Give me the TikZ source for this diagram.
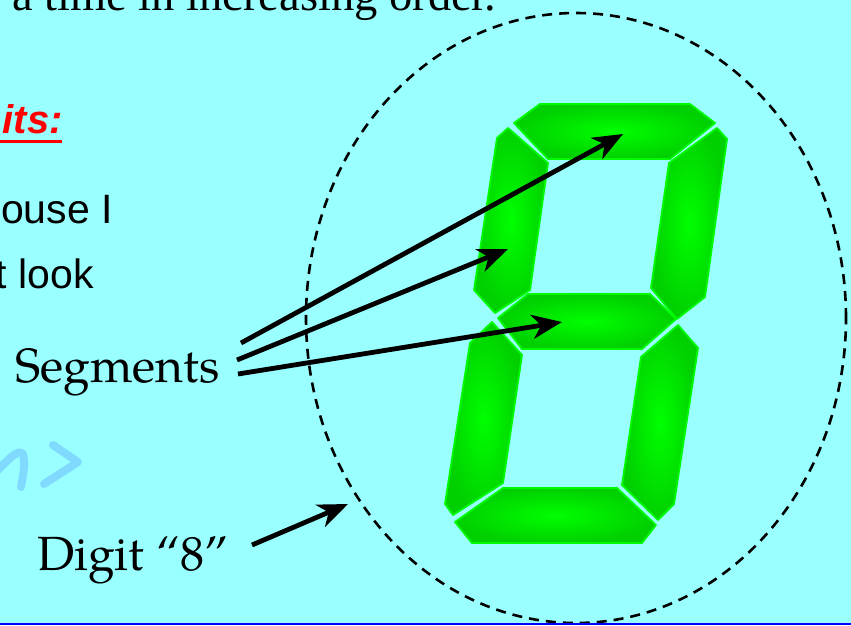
\documentclass[tikz,border=0pt]{standalone}
\usepackage{fontspec}
\setmainfont{Liberation Serif}
\newfontfamily\pal{TeX Gyre Pagella}
\newfontfamily\arial{Liberation Sans}
\usetikzlibrary{arrows.meta,shapes.geometric}
\definecolor{bg}{RGB}{153,255,255}
\definecolor{wm}{RGB}{128,218,255}
\definecolor{segout}{RGB}{0,208,0}
\definecolor{segin}{RGB}{0,255,0}
\definecolor{segline}{RGB}{0,250,0}
\tikzset{
  segpoly/.style={draw=segline, line width=1.8pt, line join=round, shading=radial, inner color=segin, outer color=segout},
  pointer/.style={line width=4.8pt, -{Stealth[length=30pt,width=24pt,inset=9pt]}},
  label/.style={inner sep=0pt, anchor=base west, font=\pal\fontsize{48}{52}\selectfont},
  sidetext/.style={inner sep=0pt, anchor=base east, font=\arial\fontsize{41}{45}\selectfont},
}
\begin{document}
\begin{tikzpicture}[x=1pt,y=-1pt]
\path[use as bounding box, fill=bg] (0,0) rectangle (851,625);
\clip (0,0) rectangle (851,625);
% top text
\node[inner sep=0pt, anchor=base west, font=\fontsize{46.5}{50}\selectfont] (toptext) at (12,10) {a time in increasing order.};
% left side texts
\node[inner sep=0pt, anchor=base east, text=red, font=\arial\bfseries\itshape\fontsize{40}{44}\selectfont] (digits) at (63,133) {its:};
\draw[red, line width=3pt] (0,141) -- (62,141);
\node[sidetext] (line1) at (113,223) {ouse I};
\node[sidetext] (line2) at (94,288) {t look};
% watermark
\draw[wm, line width=8pt, line cap=round, line join=round] (-6,474) .. controls (8,460) and (18,448) .. (23,454) .. controls (26,466) and (22,480) .. (21,487);
\draw[wm, line width=8pt, line cap=round, line join=round] (53,445) -- (78,462) -- (44,484);
% segments
\path[segpoly] (540,104) -- (690,104) -- (715,123) -- (670,159) -- (548,159) -- (514,123) -- cycle;
\path[segpoly] (508,128) -- (548,163) -- (530,290) -- (495,313) -- (474,290) -- (497,138) -- cycle;
\path[segpoly] (717,128) -- (727,139) -- (705,297) -- (677,319) -- (651,288) -- (669,163) -- cycle;
\path[segpoly] (498,318) -- (528,294) -- (650,294) -- (676,319) -- (642,349) -- (522,349) -- cycle;
\path[segpoly] (492,322) -- (522,355) -- (503,483) -- (453,515) -- (445,504) -- (470,343) -- cycle;
\path[segpoly] (678,325) -- (698,348) -- (674,504) -- (658,520) -- (622,485) -- (641,357) -- cycle;
\path[segpoly] (503,488) -- (617,488) -- (656,525) -- (642,543) -- (472,543) -- (455,522) -- cycle;
% dashed oval
\node[ellipse, draw, line width=2.6pt, dash pattern=on 10pt off 7pt, minimum width=540pt, minimum height=610pt, inner sep=0pt] (oval) at (576,318) {};
% labels
\node[label] (seg) at (15,382) {Segments};
\node[label] (digit) at (37,570) {Digit “8”};
% arrow ends
\coordinate (s1) at (241,343);
\coordinate (s2) at (237,360);
\coordinate (s3) at (238,374);
\coordinate (t1) at (623,134);
\coordinate (t2) at (508,249);
\coordinate (t3) at (562,322);
\coordinate (d1) at (252,545);
\coordinate (d2) at (348,504);
\draw[pointer] (s1) -- (t1);
\draw[pointer] (s2) -- (t2);
\draw[pointer] (s3) -- (t3);
\draw[pointer] (d1) -- (d2);
% bottom blue line
\draw[blue, line width=2pt] (0,624) -- (851,624);
\end{tikzpicture}
\end{document}
